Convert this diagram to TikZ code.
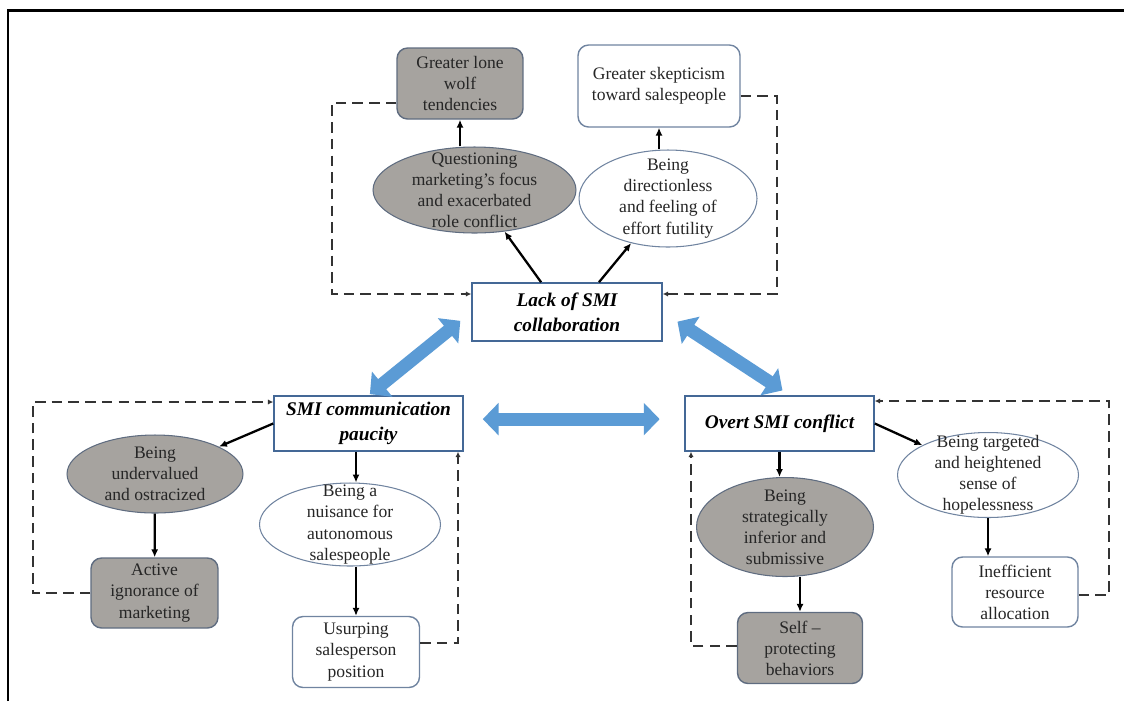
\documentclass[tikz,border=0pt]{standalone}
\usepackage{fontspec}
\setmainfont{Liberation Serif}
\usetikzlibrary{shapes.geometric,arrows.meta}
\definecolor{boxgray}{RGB}{166,163,159}
\definecolor{grayedge}{RGB}{95,108,128}
\definecolor{whiteedge}{RGB}{112,132,160}
\definecolor{mainedge}{RGB}{68,104,150}
\definecolor{arrowblue}{RGB}{91,155,213}
\begin{document}
\begin{tikzpicture}[x=0.02cm, y=-0.02cm,
    txt/.style={font=\fontsize{10}{12}\selectfont, align=center, text=black!85},
    grayrect/.style={txt, draw=grayedge, fill=boxgray, rounded corners=6pt, line width=0.8pt, inner sep=0pt},
    whiterect/.style={txt, draw=whiteedge, fill=white, rounded corners=6pt, line width=0.8pt, inner sep=0pt},
    grayell/.style={txt, ellipse, draw=grayedge, fill=boxgray, line width=0.6pt, inner xsep=-10pt, inner ysep=-14pt},
    whiteell/.style={txt, ellipse, draw=whiteedge, fill=white, line width=0.6pt, inner xsep=-10pt, inner ysep=-14pt},
    mainbox/.style={draw=mainedge, fill=white, line width=0.9pt, font=\fontsize{11}{14}\selectfont\bfseries\itshape, align=center, inner sep=0pt},
    arr/.style={-{Latex[length=4.5pt,width=4pt]}, line width=1.3pt},
    fb/.style={-{Latex[length=3pt,width=3pt]}, line width=0.9pt, draw=black!80, dash pattern=on 6pt off 3.5pt},
    blockarr/.style={draw=arrowblue, line width=7.4pt, {Triangle[length=9pt,width=18pt]}-{Triangle[length=9pt,width=18pt]}}
  ]
  \useasboundingbox (0,0) rectangle (1124,701);
  % frame
  \draw[line width=1.7pt] (8,701) -- (8,10) -- (1124,10);

  % lack of collaboration
  \node[mainbox, minimum width=3.8cm, minimum height=1.16cm] (lack) at (567,312) {Lack of SMI\\collaboration};
  \node[grayrect, minimum width=2.52cm, minimum height=1.42cm] (lw) at (460,83.5) {Greater lone\\wolf\\tendencies};
  \node[whiterect, minimum width=3.24cm, minimum height=1.64cm] (sk) at (659,86) {Greater skepticism\\toward salespeople};
  \node[grayell, minimum width=4.06cm, minimum height=1.72cm] (qm) at (474.5,190) {Questioning\\marketing’s focus\\and exacerbated\\role conflict};
  \node[whiteell, minimum width=3.56cm, minimum height=1.94cm] (dl) at (668,198.5) {Being\\directionless\\and feeling of\\effort futility};
  \draw[arr] (lack.131) -- (qm);
  \draw[arr] (lack.43) -- (dl);
  \draw[arr] (lw.south |- qm.north) -- (lw.south);
  \draw[arr] (sk.south |- dl.north) -- (sk.south);
  \coordinate (tl1) at (332,103);
  \coordinate (tl2) at (332,294);
  \draw[fb] (tl1 -| lw.west) -- (tl1) -- (tl2) -- (tl2 -| lack.west);
  \coordinate (tr1) at (777,96);
  \coordinate (tr2) at (777,294);
  \draw[fb] (tr1 -| sk.east) -- (tr1) -- (tr2) -- (tr2 -| lack.east);

  % communication paucity
  \node[mainbox, minimum width=3.78cm, minimum height=1.1cm] (smi) at (368.5,423.5) {SMI communication\\paucity};
  \node[grayell, minimum width=3.52cm, minimum height=1.56cm] (uo) at (155,474) {Being\\undervalued\\and ostracized};
  \node[grayrect, minimum width=2.54cm, minimum height=1.4cm] (aim) at (154.5,593) {Active\\ignorance of\\marketing};
  \node[whiteell, minimum width=3.62cm, minimum height=1.66cm] (nui) at (350,524.5) {Being a\\nuisance for\\autonomous\\salespeople};
  \node[whiterect, minimum width=2.54cm, minimum height=1.42cm] (usp) at (356,652) {Usurping\\salesperson\\position};
  \draw[arr] (smi.west) -- (uo);
  \draw[arr] (uo) -- (aim);
  \draw[arr] (smi.south -| usp) -- (nui.north -| usp);
  \draw[arr] (nui.south -| usp) -- (usp.north);
  \coordinate (l1) at (33,402);
  \coordinate (l2) at (33,593);
  \draw[fb] (l2 -| aim.west) -- (l2) -- (l1) -- (l1 -| smi.west);
  \coordinate (u1) at (458,643);
  \draw[fb] (u1 -| usp.east) -- (u1) -- (u1 |- smi.south);

  % overt conflict
  \node[mainbox, minimum width=3.78cm, minimum height=1.1cm] (overt) at (779.5,423.5) {Overt SMI conflict};
  \node[grayell, minimum width=3.54cm, minimum height=1.98cm] (sis) at (785,527) {Being\\strategically\\inferior and\\submissive};
  \node[grayrect, minimum width=2.5cm, minimum height=1.42cm] (spb) at (800,648) {Self –\\protecting\\behaviors};
  \node[whiteell, minimum width=3.62cm, minimum height=1.7cm] (tgt) at (988,475) {Being targeted\\and heightened\\sense of\\hopelessness};
  \node[whiterect, minimum width=2.52cm, minimum height=1.4cm] (ira) at (1015,592) {Inefficient\\resource\\allocation};
  \draw[arr] (overt.south) -- (overt.south |- sis.north);
  \draw[arr] (overt.east) -- (tgt);
  \draw[arr] (sis.south -| spb) -- (spb.north);
  \draw[arr] (tgt.south) -- (tgt.south |- ira.north);
  \coordinate (s1) at (691,646);
  \draw[fb] (s1 -| spb.west) -- (s1) -- (s1 |- overt.south);
  \coordinate (r1) at (1109,595);
  \coordinate (r2) at (1109,401);
  \draw[fb] (r1 -| ira.east) -- (r1) -- (r2) -- (r2 -| overt.east);

  % block arrows
  \draw[blockarr, shorten <=1pt, shorten >=8pt] (smi.north) -- (lack.west);
  \draw[blockarr, shorten <=10pt, shorten >=5pt] (lack.east) -- (overt.70);
  \draw[blockarr, shorten <=10.8pt, shorten >=14pt] ([yshift=2.5pt]smi.east) -- ([yshift=2.5pt]overt.west);
\end{tikzpicture}
\end{document}
